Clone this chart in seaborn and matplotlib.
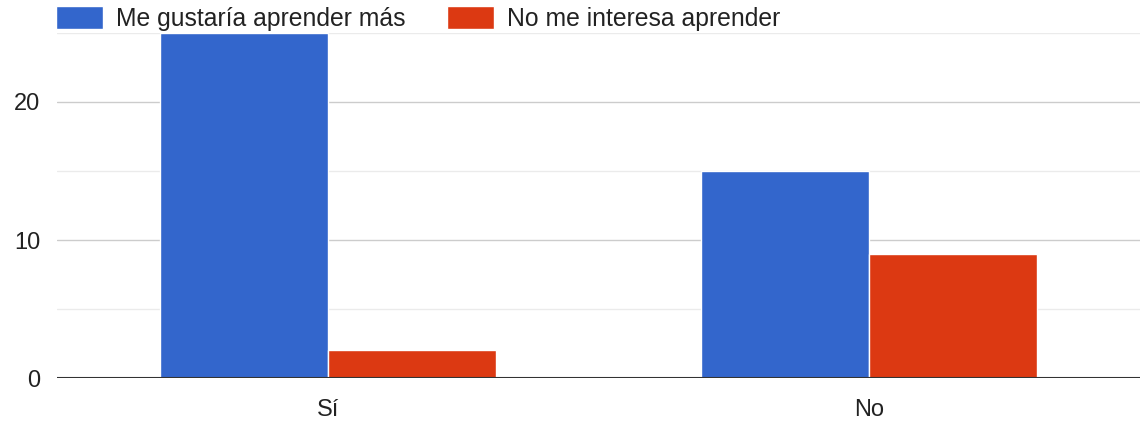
import matplotlib
matplotlib.use("Agg")
import matplotlib.pyplot as plt
import pandas as pd
import seaborn as sns

# Données
categories = ["Sí", "No"]
series_names = ["Me gustaría aprender más", "No me interesa aprender"]
valores_mas = [25, 15]
valores_no = [2, 9]
colores = ["#3366CC", "#DC3912"]

df = pd.DataFrame({
    "respuesta": categories * 2,
    "serie": [series_names[0]] * 2 + [series_names[1]] * 2,
    "valor": valores_mas + valores_no,
})

sns.set_style("white")
plt.rcParams["font.family"] = ["Liberation Sans", "DejaVu Sans"]

fig = plt.figure(figsize=(11.4, 4.22), dpi=100)
ax = fig.add_axes([0.05, 0.104, 0.95, 0.818])

sns.barplot(data=df, x="respuesta", y="valor", hue="serie", order=categories,
            hue_order=series_names, palette=colores, width=0.62, ax=ax,
            edgecolor="white", linewidth=1, saturation=1, legend=True)

ax.set_xlim(-0.5, 1.5)
ax.set_ylim(0, 25)
ax.set_yticks([0, 10, 20])
ax.set_yticks([5, 15, 25], minor=True)
ax.grid(axis="y", which="major", color="#cccccc", linewidth=1)
ax.grid(axis="y", which="minor", color="#ebebeb", linewidth=1)
ax.set_axisbelow(True)
ax.axhline(0, color="#333333", linewidth=1.5, zorder=5)
for s in ax.spines.values():
    s.set_visible(False)
ax.tick_params(axis="both", which="both", length=0, labelsize=17, colors="#222222")
ax.tick_params(axis="x", pad=15)
ax.tick_params(axis="y", pad=12)
ax.set_xlabel("")
ax.set_ylabel("")

handles, labels = ax.get_legend_handles_labels()
ax.get_legend().remove()
fig.legend(handles, labels, loc="upper left", bbox_to_anchor=(0.0445, 0.997), ncol=2,
           frameon=False, fontsize=17.8, handlelength=1.9, handleheight=1.05,
           handletextpad=0.53, columnspacing=1.7, borderaxespad=0, borderpad=0.2,
           labelcolor="#222222")

fig.savefig("out.png", dpi=100)
